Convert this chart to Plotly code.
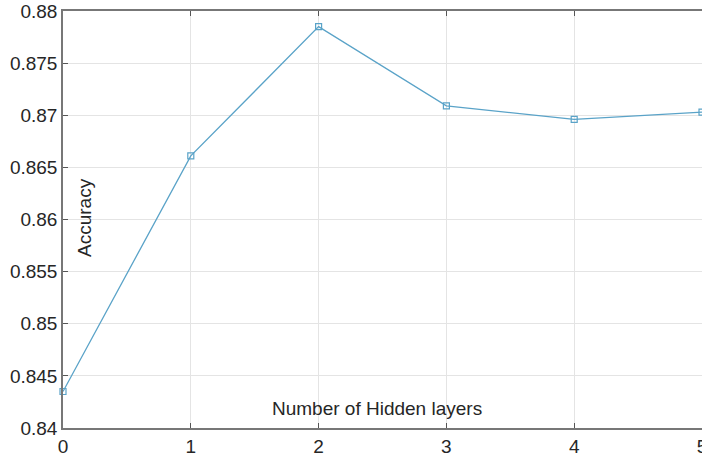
import plotly.graph_objects as go

hidden_layers = [0, 1, 2, 3, 4, 5]
accuracy = [0.8435, 0.8661, 0.8785, 0.8709, 0.8696, 0.8703]
y_ticks = [0.84, 0.845, 0.85, 0.855, 0.86, 0.865, 0.87, 0.875, 0.88]
y_tick_labels = ["0.84", "0.845", "0.85", "0.855", "0.86", "0.865", "0.87", "0.875", "0.88"]

fig = go.Figure()
fig.add_trace(go.Scatter(
    x=hidden_layers, y=accuracy, mode="lines+markers",
    line=dict(color="#5aa3c8", width=1.3),
    marker=dict(symbol="square-open", size=6, color="#5aa3c8", line=dict(width=1.2)),
    cliponaxis=False, showlegend=False,
))

font = "Liberation Sans, Arial, sans-serif"
fig.update_layout(
    width=702, height=461,
    margin=dict(l=63, r=0, t=11, b=33, autoexpand=False),
    paper_bgcolor="white", plot_bgcolor="white",
    font=dict(family=font, color="#262626"),
    xaxis=dict(range=[0, 5], tickvals=hidden_layers, ticks="inside", ticklen=5,
               tickcolor="#555", showline=True, linecolor="#777", linewidth=1.5, mirror="ticks",
               showgrid=True, gridcolor="#e4e4e4", gridwidth=1, zeroline=False,
               ticklabeloverflow="allow",
               tickfont=dict(size=19, family=font, color="#262626")),
    yaxis=dict(range=[0.84, 0.88], tickvals=y_ticks, ticktext=y_tick_labels, ticks="inside", ticklen=5,
               tickcolor="#555", showline=True, linecolor="#777", linewidth=1.5,
               showgrid=True, gridcolor="#e4e4e4", gridwidth=1, zeroline=False,
               ticklabeloverflow="allow",
               tickfont=dict(size=19, family=font, color="#262626")),
    annotations=[
        dict(text="Accuracy", x=0.0344, y=0.506, xref="paper", yref="paper", textangle=-90,
             xanchor="center", yanchor="middle",
             showarrow=False, font=dict(size=19, family=font, color="#262626")),
        dict(text="Number of Hidden layers", x=0.491, y=0.0456, xref="paper", yref="paper",
             xanchor="center", yanchor="middle",
             showarrow=False, font=dict(size=19, family=font, color="#262626")),
    ],
)
fig.write_html("out.html", config={"displayModeBar": False},
               post_script="document.body.style.margin='0';document.body.style.overflow='hidden';")
